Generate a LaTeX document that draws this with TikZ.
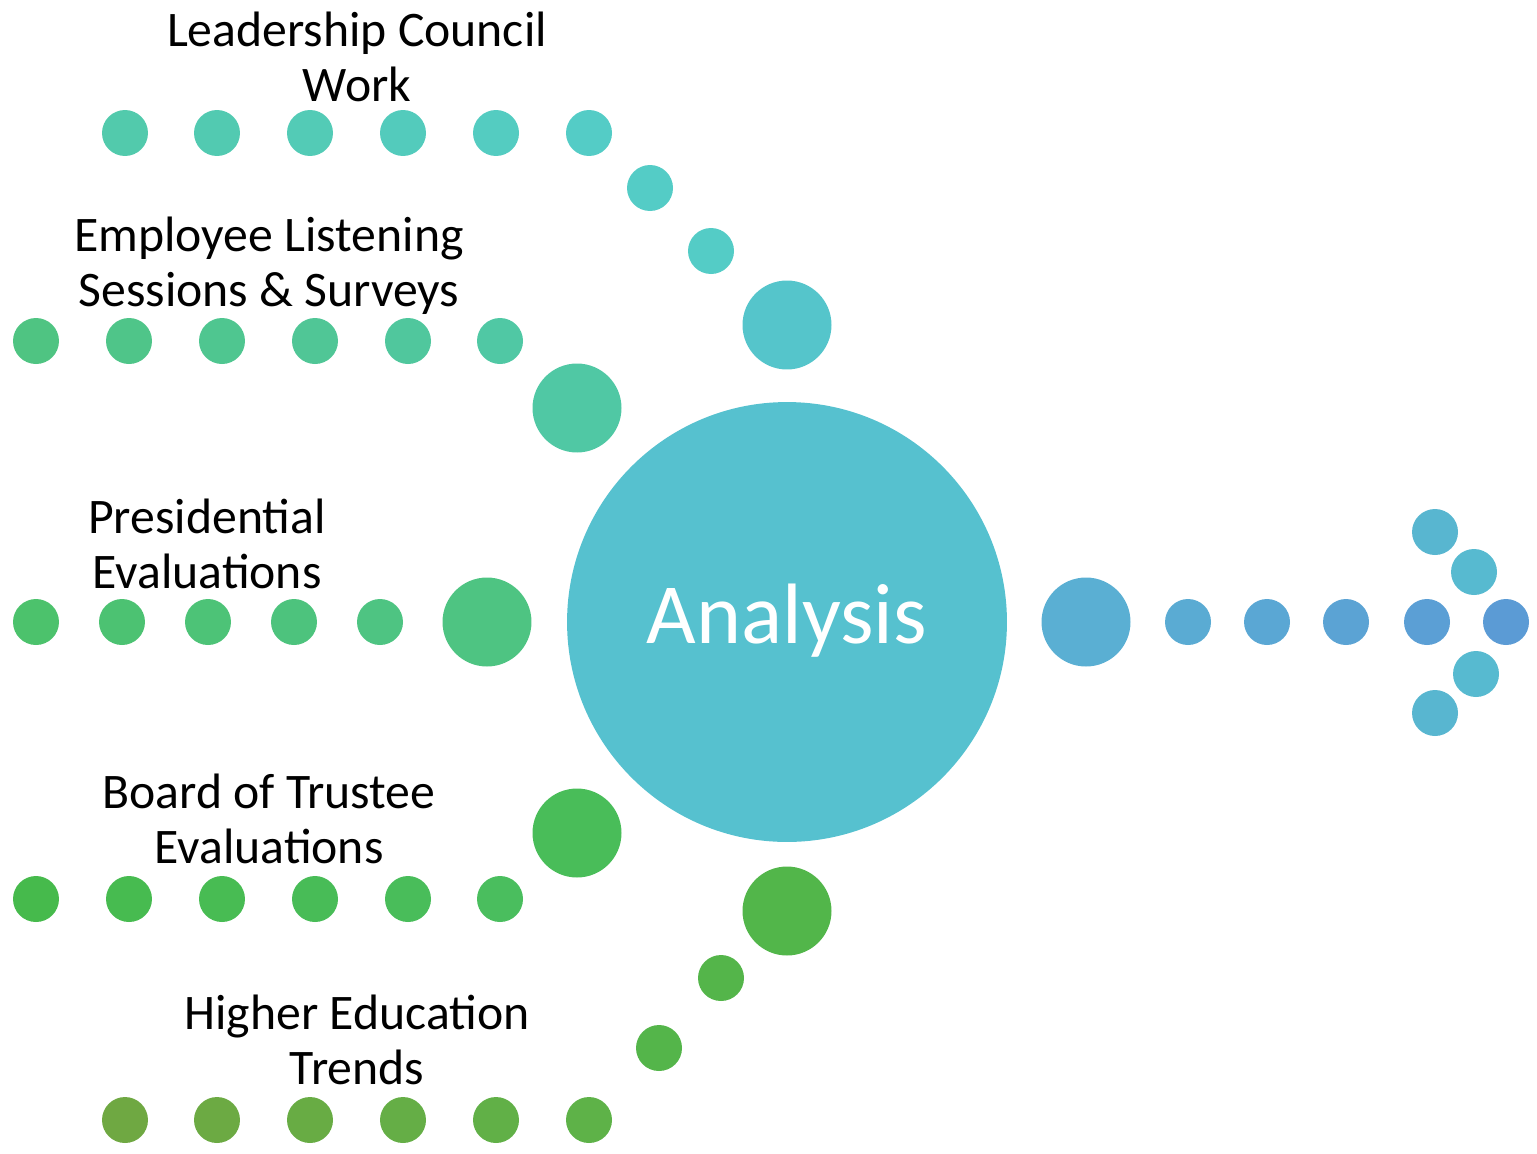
\documentclass[tikz,border=0pt]{standalone}
\usepackage{fontspec}
\setmainfont{Carlito}
\usetikzlibrary{positioning}

\definecolor{leadL}{HTML}{52CAAC}
\definecolor{leadR}{HTML}{54CCC6}
\definecolor{emplL}{HTML}{4FC482}
\definecolor{emplR}{HTML}{50C8A4}
\definecolor{presL}{HTML}{4CC26C}
\definecolor{presR}{HTML}{4EC482}
\definecolor{boardL}{HTML}{46BA4C}
\definecolor{boardR}{HTML}{4ABE5E}
\definecolor{trendL}{HTML}{6FA842}
\definecolor{trendR}{HTML}{5EB248}
\definecolor{hubcol}{HTML}{56C1CF}
\definecolor{outL}{HTML}{5AAFD3}
\definecolor{outR}{HTML}{5B9BD5}
\definecolor{headcol}{HTML}{58B6D0}

\tikzset{
  dot/.style={circle, inner sep=0pt, minimum size=0.92cm},
  bigdot/.style={circle, inner sep=0pt, minimum size=1.78cm},
  label/.style={align=center, anchor=base, font=\fontsize{28.3}{31.2}\selectfont}
}

\begin{document}
\begin{tikzpicture}[x=0.02cm, y=-0.02cm]
  \useasboundingbox (0,0) rectangle (1537,1153);

  % hub
  \node[circle, inner sep=0pt, minimum size=8.8cm, fill=hubcol] (hub) at (787,622) {};
  \node[anchor=base, text=white, font=\fontsize{48.8}{58}\selectfont] (hubtext) at (787,643) {Analysis};

  % leadership council
  \foreach \i/\x in {0/125,1/217,2/310,3/403,4/496,5/589}{
    \pgfmathtruncatemacro{\p}{100-20*\i}
    \node[dot, fill=leadL!\p!leadR] (lead\i) at (\x,133) {};
  }
  \node[dot, fill=leadR] (lead6) at (650,188) {};
  \node[dot, fill=leadR] (lead7) at (711,251) {};
  \node[bigdot, fill=hubcol!60!leadR] (lead8) at (787,325) {};
  \node[label] (leadtext) at (357,101) {Leadership Council\\Work};

  % employee listening
  \foreach \i/\x in {0/36,1/129,2/222,3/315,4/408,5/500}{
    \pgfmathtruncatemacro{\p}{100-20*\i}
    \node[dot, fill=emplL!\p!emplR] (empl\i) at (\x,341) {};
  }
  \node[bigdot, fill=emplR] (empl6) at (577,408) {};
  \node[label] (empltext) at (269,306) {Employee Listening\\Sessions \& Surveys};

  % presidential evaluations
  \foreach \i/\x in {0/36,1/122,2/208,3/294,4/380}{
    \pgfmathtruncatemacro{\p}{100-25*\i}
    \node[dot, fill=presL!\p!presR] (pres\i) at (\x,622) {};
  }
  \node[bigdot, fill=presR] (pres5) at (487,622) {};
  \node[label] (prestext) at (207,588) {Presidential\\Evaluations};

  % board of trustee evaluations
  \foreach \i/\x in {0/36,1/129,2/222,3/315,4/408,5/500}{
    \pgfmathtruncatemacro{\p}{100-20*\i}
    \node[dot, fill=boardL!\p!boardR] (board\i) at (\x,899) {};
  }
  \node[bigdot, fill=boardR!70!boardL] (board6) at (577,833) {};
  \node[label] (boardtext) at (269,863) {Board of Trustee\\Evaluations};

  % higher education trends
  \foreach \i/\x in {0/125,1/217,2/310,3/403,4/496,5/589}{
    \pgfmathtruncatemacro{\p}{100-20*\i}
    \node[dot, fill=trendL!\p!trendR] (trend\i) at (\x,1120) {};
  }
  \node[dot, fill=trendR!60!boardL] (trend6) at (659,1048) {};
  \node[dot, fill=trendR!60!boardL] (trend7) at (721,978) {};
  \node[bigdot, fill=trendR!50!boardL] (trend8) at (787,911) {};
  \node[label] (trendtext) at (357,1084) {Higher Education\\Trends};

  % output arrow
  \node[bigdot, fill=outL] (out0) at (1086,622) {};
  \foreach \i/\x in {1/1188,2/1267,3/1346,4/1427,5/1506}{
    \pgfmathtruncatemacro{\p}{100-20*\i}
    \node[dot, fill=outL!\p!outR] (out\i) at (\x,622) {};
  }
  \node[dot, fill=headcol] (headA) at (1435,532) {};
  \node[dot, fill=headcol!60!hubcol] (headB) at (1474,572) {};
  \node[dot, fill=headcol!60!hubcol] (headC) at (1476,674) {};
  \node[dot, fill=headcol] (headD) at (1435,713) {};
\end{tikzpicture}
\end{document}
